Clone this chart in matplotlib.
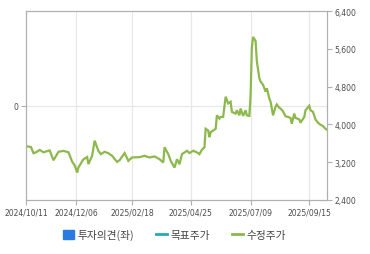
import matplotlib
matplotlib.use("Agg")
import matplotlib.pyplot as plt
from matplotlib.patches import Patch
from matplotlib.lines import Line2D

# trading-day index -> adjusted price (수정주가)
days = [0, 4, 6, 8, 11, 14, 19, 22, 26, 30, 34, 37, 39, 41, 42, 46, 49, 50, 53, 55,
        58, 60, 63, 66, 69, 73, 75, 79, 82, 85, 91, 95, 99, 103, 107, 110, 111, 114, 116, 119,
        121, 123, 125, 129, 131, 134, 137, 139, 141, 143, 144, 146, 147, 148, 150, 152, 153, 155, 156, 158,
        160, 162, 164, 165, 168, 169, 171, 172, 174, 176, 177, 179, 180, 181, 182, 184, 185, 187, 188, 190,
        192, 193, 195, 196, 198, 200, 201, 203, 204, 206, 208, 210, 212, 213, 215, 216, 219, 220, 223, 224,
        227, 228, 230, 232, 234, 236, 238, 240, 241]
prices = [3540, 3520, 3390, 3410, 3460, 3410, 3450, 3240, 3420, 3440, 3410, 3210, 3135, 2980, 3090, 3260, 3310, 3160, 3335, 3656,
          3440, 3370, 3420, 3390, 3335, 3206, 3243, 3393, 3228, 3300, 3307, 3335, 3300, 3322, 3264, 3193, 3515, 3371, 3228, 3086,
          3264, 3157, 3371, 3442, 3393, 3442, 3408, 3371, 3463, 3515, 3907, 3871, 3729, 3836, 3871, 3907, 4192, 4122, 4158, 4158,
          4587, 4443, 4480, 4265, 4229, 4300, 4192, 4336, 4180, 4300, 4192, 4180, 4621, 5622, 5852, 5766, 5337, 4979, 4908, 4836,
          4694, 4765, 4550, 4480, 4192, 4372, 4422, 4351, 4336, 4278, 4171, 4158, 4137, 4014, 4229, 4137, 4107, 4036, 4158, 4300,
          4394, 4300, 4265, 4107, 4036, 3993, 3965, 3907, 3892]

tick_days = [0, 40, 85, 132, 180, 227]
tick_labels = ["2024/10/11", "2024/12/06", "2025/02/18", "2025/04/25", "2025/07/09", "2025/09/15"]
right_ticks = [2400, 3200, 4000, 4800, 5600, 6400]

plt.rcParams['font.family'] = ['DejaVu Sans', 'Noto Sans CJK KR']
plt.rcParams['font.stretch'] = 'condensed'

gray = "#b0b0b0"
txt = "#4d4d4d"
green = "#8cb84c"

fig = plt.figure(figsize=(3.7, 2.55), dpi=100)
ax = fig.add_axes([0.0703, 0.2118, 0.8127, 0.741])
ax2 = ax.twinx()

ax2.plot(days, prices, color=green, lw=1.6, solid_joinstyle="miter")
ax2.set_ylim(2400, 6400)
ax2.set_yticks(right_ticks)
ax2.set_yticklabels([f"{v:,}" for v in right_ticks])

ax.set_xlim(0, 241)
ax.set_ylim(-1, 1)
ax.set_yticks([0])
ax.set_xticks(tick_days)
ax.set_xticklabels(tick_labels)
ax.grid(True, color="#e8e8e8", lw=0.9)
ax.set_axisbelow(True)

for a in (ax, ax2):
    for s in a.spines.values():
        s.set_color(gray)
        s.set_linewidth(0.8)
    a.tick_params(colors=gray, labelcolor=txt, labelsize=6.1, length=3.5, width=0.8, pad=2)

handles = [Patch(color="#2a7ae2"),
           Line2D([], [], color="#27a9b9", lw=2),
           Line2D([], [], color=green, lw=2)]
leg = fig.legend(handles, ["투자의견(좌)", "목표주가", "수정주가"], loc="center",
                 bbox_to_anchor=(0.472, 0.075), ncol=3, frameon=False,
                 prop={'family': ['Noto Sans CJK KR'], 'size': 7.7},
                 handlelength=1.0, handleheight=0.9, handletextpad=0.4, columnspacing=2.0)
for t in leg.get_texts():
    t.set_color("#444444")

fig.savefig("out.png", dpi=100)
